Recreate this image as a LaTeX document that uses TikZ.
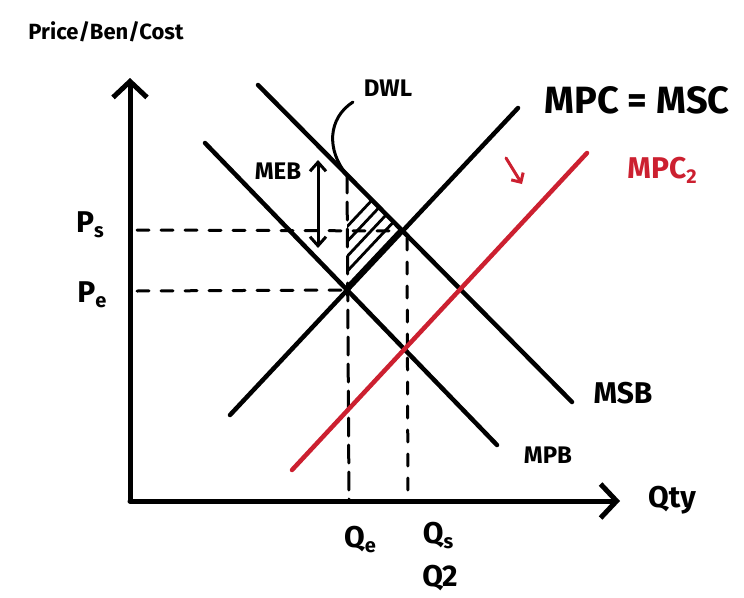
\documentclass[tikz,border=0pt]{standalone}
\usepackage{fontspec}
\setmainfont{Fira Sans}
\usetikzlibrary{arrows.meta}
\definecolor{curvered}{RGB}{204,32,48}
\begin{document}
\begin{tikzpicture}[x=1pt,y=-1pt,line cap=round,line join=round,
  curveline/.style={line width=4.5pt},
  axisline/.style={line width=5pt,-{Straight Barb[length=16pt,width=34pt,line width=5pt]}},
  guide/.style={line width=3pt,dash pattern=on 12pt off 12pt},
  hatchline/.style={line width=2.8pt},
  lbl/.style={inner sep=0pt,font=\fontsize{30}{30}\selectfont\bfseries},
  small/.style={inner sep=0pt,font=\fontsize{24}{24}\selectfont\bfseries}]
\useasboundingbox (0,0) rectangle (744,597);
% key points
\coordinate (O) at (130,501);
\coordinate (Ytop) at (130,78);
\coordinate (Xend) at (620,501);
\coordinate (mpbA) at (205,143); \coordinate (mpbB) at (497,445);
\coordinate (msbA) at (258,85);  \coordinate (msbB) at (572,402);
\coordinate (mpcA) at (230,415); \coordinate (mpcB) at (518,108);
\coordinate (redA) at (292,470); \coordinate (redB) at (587,153);
\coordinate (E) at (347.2,290);
\coordinate (S) at (402.6,231);
\coordinate (T) at (347,175);
\coordinate (peL) at (137,291);
\coordinate (psL) at (137,230);
\coordinate (qeB) at (349,500);
\coordinate (qsB) at (408,500);
\coordinate (qsT) at (407,238);
\coordinate (mebT) at (318,160);
\coordinate (mebB) at (318,248);
\coordinate (rarA) at (506,158);
\coordinate (rarB) at (522,184);
\coordinate (dwlS) at (353,102);
% hatched DWL
\begin{scope}
  \clip (T) -- (S) -- (E) -- cycle;
  \foreach \x in {250,264,...,430} \draw[hatchline] (\x,330) -- ++(170,-181);
\end{scope}
% guides
\draw[guide] (psL) -- (S);
\draw[guide] (peL) -- (E);
\draw[guide,dash pattern=on 18pt off 9pt] (T) -- (qeB);
\draw[guide] (qsT) -- (qsB);
% axes
\draw[axisline] (O) -- (Ytop);
\draw[axisline] (O) -- (Xend);
% curves
\draw[curveline] (mpbA) -- (mpbB);
\draw[curveline] (msbA) -- (msbB);
\draw[curveline] (mpcA) -- (mpcB);
\draw[curveline,curvered] (redA) -- (redB);
% MEB arrow
\draw[line width=3pt,{Straight Barb[length=9pt,width=16pt]}-{Straight Barb[length=9pt,width=16pt]}] (mebT) -- (mebB);
% red shift arrow
\draw[line width=3pt,curvered,-{Straight Barb[length=7pt,width=14pt]}] (rarA) -- (rarB);
% DWL pointer
\draw[line width=3pt] (dwlS) .. controls (328,118) and (326,150) .. (T);
% labels
\node[small,font=\fontsize{22}{22}\selectfont\bfseries] (ylab) at (106,32) {Price/Ben/Cost};
\node[small] (dwl) at (388,88) {DWL};
\node[small] (meb) at (278,171) {MEB};
\node[lbl,font=\fontsize{38}{38}\selectfont\bfseries] (mpc) at (637,100) {MPC = MSC};
\node[lbl,text=curvered] (mpc2) at (662,170) {MPC\raisebox{-5pt}{\fontsize{20}{20}\selectfont\bfseries 2}};
\node[lbl] (msb) at (623,393) {MSB};
\node[small] (mpb) at (548,455) {MPB};
\node[lbl] (qty) at (672,500) {Qty};
\node[lbl] (ps) at (90,225) {P\raisebox{-5pt}{\fontsize{20}{20}\selectfont\bfseries s}};
\node[lbl] (pe) at (92,295) {P\raisebox{-5pt}{\fontsize{20}{20}\selectfont\bfseries e}};
\node[lbl] (qe) at (360,540) {Q\raisebox{-5pt}{\fontsize{20}{20}\selectfont\bfseries e}};
\node[lbl] (qs) at (438,536) {Q\raisebox{-5pt}{\fontsize{20}{20}\selectfont\bfseries s}};
\node[lbl] (q2) at (440,578) {Q2};
\end{tikzpicture}
\end{document}
